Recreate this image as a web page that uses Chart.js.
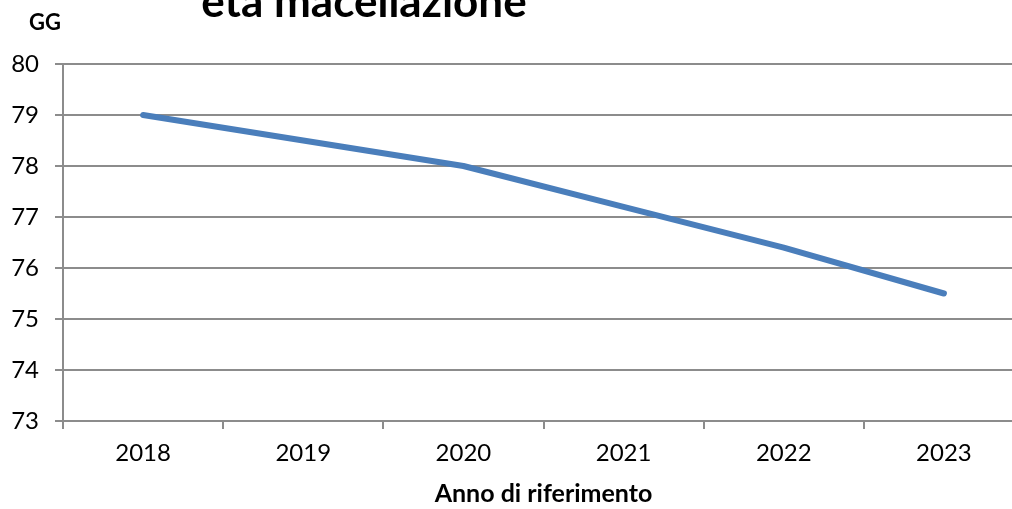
<!DOCTYPE html>
<html>
<head>
<meta charset="utf-8">
<script src="https://cdn.jsdelivr.net/npm/chart.js@4/dist/chart.umd.min.js"></script>
<style>
  html, body { margin: 0; padding: 0; background: #fff; overflow: hidden; }
  #wrap { width: 1040px; height: 509px; }
</style>
</head>
<body>
<div id="wrap"><canvas id="chart" width="1040" height="509"></canvas></div>
<script>
// chart data
const years = ['2018', '2019', '2020', '2021', '2022', '2023'];
const etaMacellazione = [79, 78.5, 78, 77.2, 76.4, 75.5];
const yTicks = [73, 74, 75, 76, 77, 78, 79, 80];

const gridColor = '#8c8c8c';
const fontFamily = 'Lato, "Open Sans", sans-serif';

// draws the (partly cut) chart title and the "GG" unit label
const extraText = {
    id: 'extraText',
    afterDraw(chart) {
        const ctx = chart.ctx;
        ctx.save();
        ctx.fillStyle = '#000';
        ctx.textBaseline = 'alphabetic';
        ctx.textAlign = 'center';
        ctx.font = 'bold 44px ' + fontFamily;
        ctx.fillText('età macellazione', 364, 17);
        ctx.font = 'bold 22px ' + fontFamily;
        ctx.fillText('GG', 45, 30);
        ctx.restore();
    }
};

const ctx = document.getElementById('chart').getContext('2d');
const chart = new Chart(ctx, {
    type: 'line',
    data: {
        labels: years,
        datasets: [{
            label: 'età macellazione',
            data: etaMacellazione,
            borderColor: '#4a7ebb',
            borderWidth: 6,
            borderCapStyle: 'round',
            borderJoinStyle: 'round',
            pointRadius: 0,
            tension: 0,
            fill: false
        }]
    },
    options: {
        responsive: false,
        animation: false,
        layout: { padding: { top: 64, right: 16, left: 0, bottom: 0 } },
        plugins: {
            legend: { display: false },
            tooltip: { enabled: false }
        },
        scales: {
            x: {
                offset: true,
                grid: {
                    offset: true,
                    drawOnChartArea: false,
                    drawTicks: true,
                    tickLength: 8,
                    color: gridColor,
                    lineWidth: 2
                },
                border: { display: false },
                ticks: {
                    color: '#000',
                    padding: 10,
                    maxRotation: 0,
                    font: { family: fontFamily, size: 24 }
                },
                title: {
                    display: true,
                    text: 'Anno di riferimento',
                    color: '#000',
                    font: { family: fontFamily, size: 25, weight: 'bold' },
                    padding: { top: 0, bottom: 0 }
                },
                afterFit(scale) { scale.height = 88; }
            },
            y: {
                min: 73,
                max: 80,
                afterBuildTicks(scale) {
                    scale.ticks = yTicks.map(v => ({ value: v }));
                },
                grid: {
                    color: gridColor,
                    lineWidth: 2,
                    tickLength: 8
                },
                border: { display: true, color: gridColor, width: 2 },
                ticks: {
                    color: '#000',
                    padding: 16,
                    font: { family: fontFamily, size: 24 }
                },
                afterFit(scale) { scale.width = 63; }
            }
        }
    },
    plugins: [extraText]
});
</script>
</body>
</html>
